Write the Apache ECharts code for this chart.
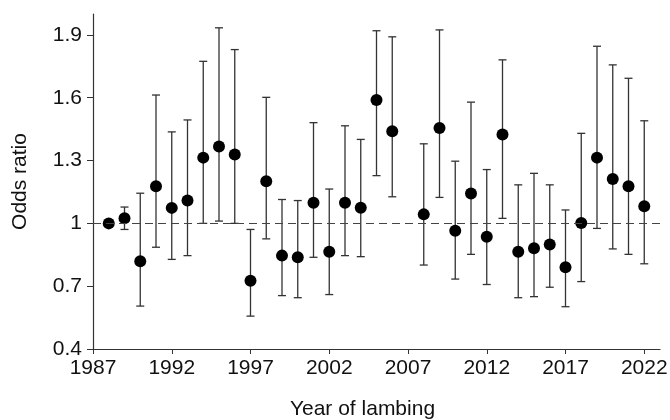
<!DOCTYPE html>
<html>
<head>
<meta charset="utf-8">
<script src="https://cdn.jsdelivr.net/npm/echarts@6/dist/echarts.min.js"></script>
<style>
  html, body { margin: 0; padding: 0; background: #fff; }
  #chart { width: 670px; height: 420px; }
</style>
</head>
<body>
<div id="chart"></div>
<script>
// year of lambing, odds ratio and 95% CI
var years = [1988, 1989, 1990, 1991, 1992, 1993, 1994, 1995, 1996, 1997, 1998, 1999,
  2000, 2001, 2002, 2003, 2004, 2005, 2006, 2008, 2009, 2010, 2011, 2012, 2013,
  2014, 2015, 2016, 2017, 2018, 2019, 2020, 2021, 2022]
var oddsRatio = [1.00, 1.024, 0.819, 1.177, 1.074, 1.109, 1.314, 1.367, 1.329, 0.726, 1.201, 0.846,
  0.838, 1.098, 0.864, 1.098, 1.075, 1.589, 1.440, 1.043, 1.456, 0.965, 1.143, 0.936, 1.424,
  0.864, 0.881, 0.899, 0.790, 1.002, 1.314, 1.212, 1.177, 1.082]
var lower = [1.00, 0.971, 0.605, 0.886, 0.828, 0.846, 1.000, 1.011, 1.000, 0.557, 0.926, 0.655,
  0.645, 0.838, 0.660, 0.846, 0.841, 1.228, 1.127, 0.801, 1.124, 0.734, 0.852, 0.708, 1.024,
  0.645, 0.650, 0.695, 0.602, 0.722, 0.976, 0.878, 0.852, 0.807]
var upper = [1.00, 1.078, 1.144, 1.613, 1.437, 1.494, 1.774, 1.934, 1.830, 0.971, 1.602, 1.114,
  1.109, 1.481, 1.164, 1.466, 1.401, 1.920, 1.891, 1.380, 1.924, 1.297, 1.579, 1.257, 1.781,
  1.184, 1.239, 1.184, 1.064, 1.430, 1.846, 1.757, 1.693, 1.490]

var xTicks = [1987, 1992, 1997, 2002, 2007, 2012, 2017, 2022]
var yTicks = [0.4, 0.7, 1, 1.3, 1.6, 1.9]

var font = 'Liberation Sans, Arial, sans-serif'
var ink = '#111'

var points = years.map(function (y, i) { return [y, oddsRatio[i]] })
var bars = years.map(function (y, i) { return [y, lower[i], upper[i]] })

var chart = echarts.init(document.getElementById('chart'))
chart.setOption({
  animation: false,
  backgroundColor: '#fff',
  grid: {
    left: 93,
    right: 10,
    top: 14,
    bottom: 71,
    containLabel: false,
    outerBoundsMode: 'none'
  },
  xAxis: {
    type: 'value',
    min: 1987,
    max: 2023,
    name: 'Year of lambing',
    nameLocation: 'middle',
    nameGap: 50,
    nameTextStyle: { fontFamily: font, fontSize: 21, color: ink, padding: [0, 28, 0, 0] },
    axisLine: { lineStyle: { color: '#333', width: 1.2 } },
    axisTick: { show: true, length: 5, customValues: xTicks, lineStyle: { color: '#333' } },
    axisLabel: {
      customValues: xTicks,
      formatter: function (v) { return String(v) },
      margin: 9,
      fontFamily: font,
      fontSize: 21,
      color: ink
    },
    splitLine: { show: false }
  },
  yAxis: {
    type: 'value',
    min: 0.4,
    max: 2.0,
    name: 'Odds ratio',
    nameLocation: 'middle',
    nameGap: 62,
    nameTextStyle: { fontFamily: font, fontSize: 21, color: ink },
    axisLine: { show: true, lineStyle: { color: '#333', width: 1.2 } },
    axisTick: { show: true, length: 6, customValues: yTicks, lineStyle: { color: '#333' } },
    axisLabel: {
      customValues: yTicks,
      formatter: function (v) { return String(v) },
      margin: 11,
      fontFamily: font,
      fontSize: 21,
      color: ink
    },
    splitLine: { show: false }
  },
  series: [
    {
      type: 'custom',
      data: bars,
      z: 2,
      renderItem: function (params, api) {
        var x = api.value(0)
        var lo = api.coord([x, api.value(1)])
        var hi = api.coord([x, api.value(2)])
        var cap = 4
        var style = { stroke: '#333', lineWidth: 1.3 }
        return {
          type: 'group',
          children: [
            { type: 'line', shape: { x1: lo[0], y1: lo[1], x2: hi[0], y2: hi[1] }, style: style },
            { type: 'line', shape: { x1: lo[0] - cap, y1: lo[1], x2: lo[0] + cap, y2: lo[1] }, style: style },
            { type: 'line', shape: { x1: hi[0] - cap, y1: hi[1], x2: hi[0] + cap, y2: hi[1] }, style: style }
          ]
        }
      }
    },
    {
      type: 'scatter',
      data: points,
      symbol: 'circle',
      symbolSize: 12,
      z: 3,
      itemStyle: { color: '#000', opacity: 1 },
      markLine: {
        silent: true,
        symbol: 'none',
        label: { show: false },
        lineStyle: { color: '#444', type: [8, 5], width: 1.2 },
        data: [{ yAxis: 1 }]
      }
    }
  ]
})
</script>
</body>
</html>
